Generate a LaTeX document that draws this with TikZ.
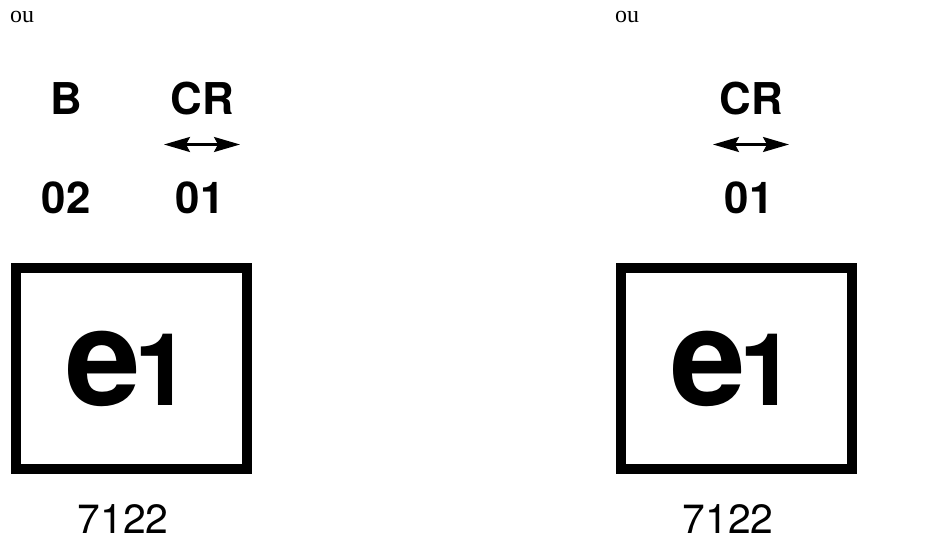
\documentclass[tikz,border=0pt]{standalone}
\usepackage{fontspec}
\usepackage{tikz}
\usetikzlibrary{arrows.meta}
\newfontfamily\helv{TeX Gyre Heros}
\newfontfamily\notefont{Liberation Serif}
\tikzset{
  toplab/.style={anchor=base, inner sep=0pt, font=\helv\bfseries\fontsize{44}{44}\selectfont},
  notelab/.style={anchor=base west, inner sep=0pt, font=\notefont\fontsize{24}{24}\selectfont},
  numlab/.style={anchor=base, inner sep=0pt, font=\helv\fontsize{41}{41}\selectfont},
  framebox/.style={draw=black, line width=10.5bp, minimum width=231bp, minimum height=201bp, inner sep=0pt},
  marklab/.style={anchor=base, inner sep=0pt, font=\helv\bfseries},
  dbl/.style={{Stealth[length=26bp,width=15bp,inset=4bp]}-{Stealth[length=26bp,width=15bp,inset=4bp]}, line width=2.4bp},
}
\begin{document}
\begin{tikzpicture}[x=1bp,y=-1bp]
  \useasboundingbox (0,0) rectangle (936,542);
  % left column only
  \node[toplab] (lettB) at (66,114.5) {B};
  \node[toplab] (numB) at (66,213.5) {02};
  \foreach \nm/\dx/\bx in {l/0/0, r/549/605} {
    \node[notelab] (ou\nm) at (10+\bx,23) {ou};
    \node[toplab] (cr\nm) at (202+\dx,114.5) {CR};
    \node[toplab] (cnt\nm) at (200+\dx,213.5) {01};
    \coordinate (from\nm) at (164+\dx,144.5);
    \coordinate (to\nm) at (240+\dx,144.5);
    \draw[dbl] (from\nm) -- (to\nm);
    \node[framebox] (box\nm) at (131.5+\bx,368.5) {};
    \node[marklab] (lab\nm) at (128+\bx,405)
      {\fontsize{136}{136}\selectfont e\kern-6pt\fontsize{101}{101}\selectfont 1};
    \node[numlab] (code\nm) at (123+\bx,533) {7122};
  }
\end{tikzpicture}
\end{document}
